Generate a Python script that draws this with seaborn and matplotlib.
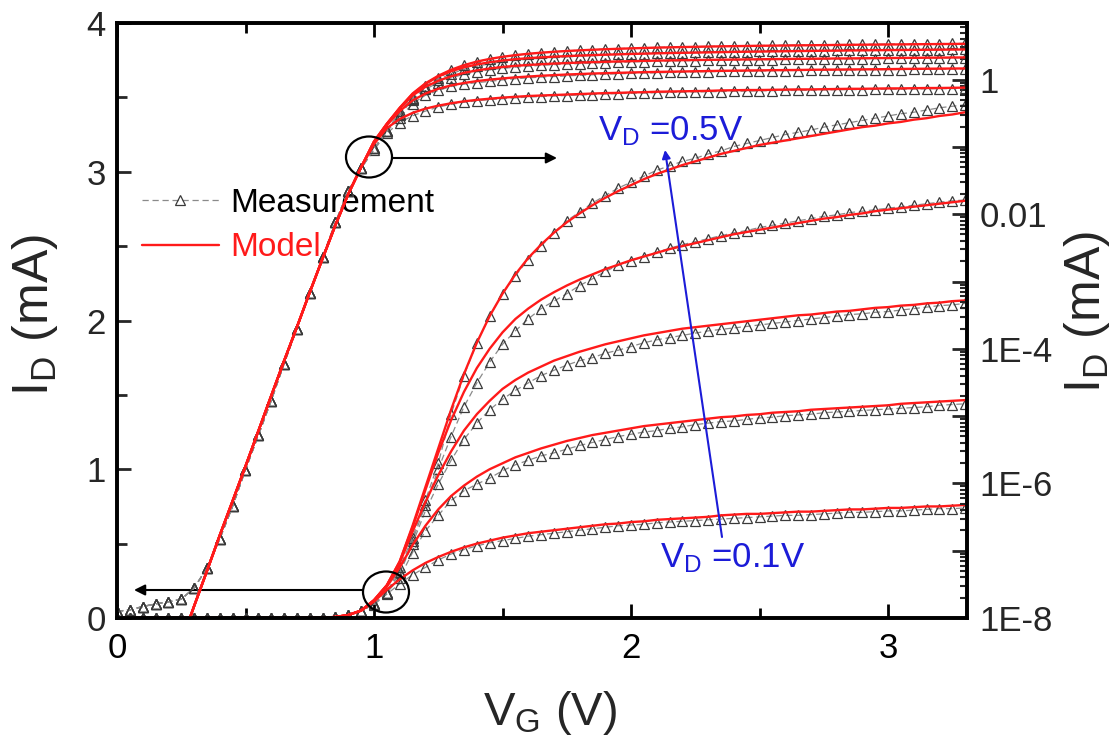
import matplotlib
matplotlib.use('Agg')
import numpy as np
import pandas as pd
import matplotlib.pyplot as plt
import seaborn as sns
from matplotlib.patches import Ellipse
from matplotlib.lines import Line2D
from matplotlib.ticker import FixedLocator, FuncFormatter, MultipleLocator, NullFormatter

# ---------------- data ----------------
vd_values = [0.1, 0.2, 0.3, 0.4, 0.5]

vg_sub = [0.00, 0.05, 0.10, 0.15, 0.20, 0.25, 0.30, 0.35, 0.40, 0.45,
          0.50, 0.55, 0.60, 0.65, 0.70, 0.75, 0.80, 0.85, 0.90, 0.95]
vg_on = [1.00, 1.05, 1.10, 1.15, 1.20, 1.25, 1.30, 1.35, 1.40, 1.45,
         1.50, 1.55, 1.60, 1.65, 1.70, 1.75, 1.80, 1.85, 1.90, 1.95,
         2.00, 2.05, 2.10, 2.15, 2.20, 2.25, 2.30, 2.35, 2.40, 2.45,
         2.50, 2.55, 2.60, 2.65, 2.70, 2.75, 2.80, 2.85, 2.90, 2.95,
         3.00, 3.05, 3.10, 3.15, 3.20, 3.25, 3.30]

# sub-threshold current (mA), common to all V_D
sub_meas = [1.26e-8, 1.32e-8, 1.48e-8, 1.62e-8, 1.74e-8, 1.9e-8, 2.8e-8, 5.5e-8, 1.5e-7, 4.6e-7,
            1.6e-6, 5.2e-6, 1.7e-5, 6.0e-5, 2.0e-4, 6.8e-4, 2.3e-3, 7.6e-3, 0.022, 0.048]
sub_model = [1.0e-11, 3.5e-11, 1.3e-10, 4.0e-10, 1.3e-9, 4.4e-9, 1.5e-8, 5.0e-8, 1.7e-7, 5.5e-7,
             1.8e-6, 6.0e-6, 2.0e-5, 6.6e-5, 2.1e-4, 6.9e-4, 2.2e-3, 6.9e-3, 0.020, 0.050]

meas_01 = [0.09, 0.16, 0.23, 0.29, 0.34, 0.39, 0.43, 0.46, 0.485, 0.505,
           0.52, 0.535, 0.55, 0.56, 0.57, 0.58, 0.59, 0.60, 0.61, 0.62,
           0.625, 0.63, 0.64, 0.645, 0.65, 0.655, 0.66, 0.665, 0.67, 0.675,
           0.68, 0.685, 0.69, 0.69, 0.695, 0.70, 0.705, 0.71, 0.71, 0.715,
           0.72, 0.72, 0.725, 0.73, 0.735, 0.735, 0.74]
model_01 = [0.11, 0.19, 0.26, 0.32, 0.37, 0.41, 0.445, 0.475, 0.50, 0.52,
            0.54, 0.555, 0.57, 0.58, 0.59, 0.60, 0.61, 0.62, 0.63, 0.635,
            0.645, 0.65, 0.66, 0.665, 0.67, 0.675, 0.68, 0.69, 0.695, 0.70,
            0.70, 0.705, 0.71, 0.715, 0.715, 0.72, 0.725, 0.73, 0.73, 0.735,
            0.74, 0.74, 0.745, 0.75, 0.75, 0.755, 0.76]
meas_02 = [0.095, 0.17, 0.27, 0.44, 0.585, 0.69, 0.79, 0.855, 0.90, 0.94,
           0.99, 1.03, 1.06, 1.09, 1.11, 1.135, 1.16, 1.18, 1.20, 1.22,
           1.235, 1.25, 1.26, 1.275, 1.285, 1.30, 1.31, 1.32, 1.325, 1.335,
           1.345, 1.35, 1.36, 1.365, 1.37, 1.38, 1.385, 1.39, 1.395, 1.40,
           1.405, 1.41, 1.415, 1.42, 1.43, 1.435, 1.44]
model_02 = [0.115, 0.21, 0.34, 0.49, 0.62, 0.73, 0.82, 0.89, 0.95, 1.00,
            1.04, 1.08, 1.11, 1.14, 1.165, 1.19, 1.21, 1.23, 1.245, 1.26,
            1.275, 1.29, 1.30, 1.31, 1.32, 1.33, 1.34, 1.35, 1.355, 1.365,
            1.37, 1.38, 1.385, 1.39, 1.40, 1.405, 1.41, 1.415, 1.42, 1.425,
            1.43, 1.44, 1.445, 1.45, 1.455, 1.46, 1.465]
meas_03 = [0.095, 0.17, 0.30, 0.50, 0.72, 0.90, 1.06, 1.20, 1.31, 1.40,
           1.47, 1.53, 1.58, 1.63, 1.665, 1.70, 1.73, 1.75, 1.78, 1.80,
           1.825, 1.85, 1.87, 1.885, 1.90, 1.915, 1.93, 1.94, 1.95, 1.96,
           1.97, 1.98, 1.99, 2.00, 2.01, 2.02, 2.03, 2.04, 2.045, 2.055,
           2.06, 2.07, 2.08, 2.09, 2.10, 2.105, 2.115]
model_03 = [0.12, 0.22, 0.37, 0.58, 0.78, 0.96, 1.12, 1.26, 1.37, 1.46,
            1.54, 1.60, 1.65, 1.69, 1.73, 1.76, 1.79, 1.815, 1.84, 1.86,
            1.88, 1.90, 1.915, 1.93, 1.945, 1.955, 1.965, 1.975, 1.985, 1.995,
            2.005, 2.015, 2.025, 2.035, 2.04, 2.05, 2.06, 2.065, 2.075, 2.085,
            2.09, 2.10, 2.105, 2.115, 2.12, 2.13, 2.135]
meas_04 = [0.095, 0.17, 0.31, 0.52, 0.76, 1.00, 1.22, 1.42, 1.58, 1.72,
           1.84, 1.93, 2.01, 2.08, 2.13, 2.18, 2.235, 2.28, 2.33, 2.37,
           2.40, 2.43, 2.46, 2.485, 2.51, 2.53, 2.55, 2.57, 2.59, 2.605,
           2.625, 2.64, 2.655, 2.67, 2.685, 2.70, 2.71, 2.725, 2.735, 2.745,
           2.755, 2.765, 2.775, 2.785, 2.795, 2.805, 2.81]
model_04 = [0.12, 0.22, 0.38, 0.61, 0.86, 1.11, 1.33, 1.52, 1.68, 1.81,
            1.92, 2.01, 2.08, 2.14, 2.19, 2.235, 2.275, 2.31, 2.345, 2.375,
            2.405, 2.43, 2.455, 2.48, 2.50, 2.52, 2.54, 2.56, 2.58, 2.595,
            2.61, 2.625, 2.64, 2.655, 2.67, 2.685, 2.695, 2.71, 2.72, 2.735,
            2.745, 2.755, 2.765, 2.775, 2.785, 2.795, 2.805]
meas_05 = [0.095, 0.17, 0.34, 0.54, 0.79, 1.04, 1.37, 1.63, 1.85, 2.03,
           2.18, 2.30, 2.41, 2.50, 2.59, 2.67, 2.73, 2.79, 2.84, 2.89,
           2.93, 2.97, 3.01, 3.04, 3.07, 3.09, 3.12, 3.14, 3.17, 3.19,
           3.21, 3.23, 3.25, 3.265, 3.28, 3.30, 3.315, 3.33, 3.345, 3.36,
           3.375, 3.39, 3.40, 3.415, 3.43, 3.44, 3.45]
model_05 = [0.12, 0.22, 0.38, 0.62, 0.88, 1.14, 1.40, 1.64, 1.85, 2.03,
            2.18, 2.31, 2.42, 2.51, 2.59, 2.66, 2.72, 2.775, 2.825, 2.87,
            2.91, 2.95, 2.985, 3.015, 3.045, 3.07, 3.095, 3.12, 3.14, 3.16,
            3.18, 3.195, 3.21, 3.225, 3.24, 3.255, 3.27, 3.285, 3.30, 3.31,
            3.325, 3.335, 3.35, 3.36, 3.375, 3.385, 3.40]

meas_on = [meas_01, meas_02, meas_03, meas_04, meas_05]
model_on = [model_01, model_02, model_03, model_04, model_05]

yticks_right = [1e-8, 1e-6, 1e-4, 1e-2, 1]
ytick_right_labels = ['1E-8', '1E-6', '1E-4', '0.01', '1']

# ---------------- build long table ----------------
rows = []
vg_all = vg_sub + vg_on
for vd, m, p in zip(vd_values, meas_on, model_on):
    for v, i in zip(vg_all, sub_meas + m):
        rows.append((v, i, vd, 'Measurement'))
    for v, i in zip(vg_all, sub_model + p):
        rows.append((v, i, vd, 'Model'))
df = pd.DataFrame(rows, columns=['VG', 'ID', 'VD', 'kind'])

# ---------------- style ----------------
sns.set_style('white')
plt.rcParams['font.family'] = ['Liberation Sans', 'DejaVu Sans']
plt.rcParams['mathtext.fontset'] = 'custom'
plt.rcParams['mathtext.rm'] = 'Liberation Sans'
plt.rcParams['mathtext.it'] = 'Liberation Sans:italic'
plt.rcParams['mathtext.bf'] = 'Liberation Sans:bold'

W, H = 1119, 748
fig = plt.figure(figsize=(W / 100, H / 100), dpi=100)
L, R, T, B = 117, 967, 23, 618
ax = fig.add_axes([L / W, 1 - B / H, (R - L) / W, (B - T) / H])
ax2 = ax.twinx()

meas_kw = dict(color='#8a8a8a', linestyle=(0, (5, 3)), linewidth=0.9,
               marker='^', markersize=6.5, markerfacecolor='none',
               markeredgecolor='#3a3a3a', markeredgewidth=0.9)
model_kw = dict(color='#ff1a1a', linewidth=1.7)

for target in (ax, ax2):
    for vd in vd_values:
        d = df[(df.VD == vd) & (df.kind == 'Measurement')]
        sns.lineplot(data=d, x='VG', y='ID', ax=target, estimator=None, sort=False,
                     legend=False, **meas_kw)
    for vd in vd_values:
        d = df[(df.VD == vd) & (df.kind == 'Model')]
        sns.lineplot(data=d, x='VG', y='ID', ax=target, estimator=None, sort=False,
                     legend=False, **model_kw)

# ---------------- axes ----------------
ax.set_xlim(0, (R - L) / 257.0)
ax.set_ylim(0, 4.0)
ax2.set_yscale('log')
ax2.set_ylim(1e-8, 10 ** (-8 + (B - T) / 67.3))

ax.set_xlabel('')
ax.set_ylabel('')
ax2.set_ylabel('')

ax.xaxis.set_major_locator(FixedLocator([0, 1, 2, 3]))
ax.xaxis.set_minor_locator(MultipleLocator(0.5))
ax.yaxis.set_major_locator(FixedLocator([0, 1, 2, 3, 4]))
ax.yaxis.set_minor_locator(MultipleLocator(0.5))
ax.xaxis.set_major_formatter(FuncFormatter(lambda v, p: '%d' % round(v)))
ax.yaxis.set_major_formatter(FuncFormatter(lambda v, p: '%d' % round(v)))

ax2.yaxis.set_major_locator(FixedLocator([10.0 ** k for k in range(-8, 1)]))
ax2.yaxis.set_minor_locator(FixedLocator([m * 10.0 ** k for k in range(-8, 1) for m in range(2, 10)
                                          if m * 10.0 ** k < 6.7]))
lab_map = {round(np.log10(v)): s for v, s in zip(yticks_right, ytick_right_labels)}
ax2.yaxis.set_major_formatter(FuncFormatter(lambda v, p: lab_map.get(round(np.log10(v)), '')))
ax2.yaxis.set_minor_formatter(NullFormatter())

ax.tick_params(axis='x', which='both', direction='in', top=True, bottom=True,
               labelsize=25, pad=10, width=2, colors='black')
ax.tick_params(axis='x', which='major', length=10)
ax.tick_params(axis='x', which='minor', length=7)
ax.tick_params(axis='y', which='both', direction='in', left=True, right=False,
               labelsize=25, pad=8, width=2)
ax.tick_params(axis='y', which='major', length=10)
ax.tick_params(axis='y', which='minor', length=7)
ax2.tick_params(axis='y', which='both', direction='in', right=True, left=False,
                labelsize=25, pad=9, width=2)
ax2.tick_params(axis='y', which='major', length=11)
ax2.tick_params(axis='y', which='minor', length=5, width=1.5)

for a in (ax, ax2):
    for s in a.spines.values():
        s.set_linewidth(2.6)
        s.set_color('black')

# axis titles
fig.text(35 / W, 1 - 315 / H, r'I$_{\rm D}$ (mA)', fontsize=36, rotation=90,
         ha='center', va='center')
fig.text(1087 / W, 1 - 312 / H, r'I$_{\rm D}$ (mA)', fontsize=36, rotation=90,
         ha='center', va='center')
fig.text(550 / W, 1 - 713 / H, r'V$_{\rm G}$ (V)', fontsize=34, ha='center', va='center')

# ---------------- legend ----------------
h_meas = Line2D([], [], **meas_kw)
h_model = Line2D([], [], **model_kw)
leg = ax.legend([h_meas, h_model], ['Measurement', 'Model'], loc='upper left',
                bbox_to_anchor=((142 - L) / (R - L), (B - 188) / (B - T)),
                frameon=False, fontsize=24, handlelength=2.3, handletextpad=0.35,
                labelspacing=0.4, borderaxespad=0, borderpad=0)
leg.get_texts()[0].set_color('black')
leg.get_texts()[1].set_color('#ff1a1a')

# ---------------- annotations ----------------
def px2d(x, y):
    return (x - L) / 257.0, (B - y) / ((B - T) / 4.0)

for cx, cy in [(369, 157), (386, 592)]:
    ax2.add_patch(Ellipse(px2d(cx, cy), 46 / 257.0, 41 / ((B - T) / 4.0),
                          transform=ax.transData, fill=False, edgecolor='black', lw=1.6,
                          zorder=10))

ax.annotate('', xy=px2d(557, 158), xytext=px2d(392, 158),
            arrowprops=dict(arrowstyle='-|>', color='black', lw=1.5, mutation_scale=16,
                            shrinkA=0, shrinkB=0), zorder=10)
ax.annotate('', xy=px2d(134, 590), xytext=px2d(363, 590),
            arrowprops=dict(arrowstyle='-|>', color='black', lw=1.5, mutation_scale=16,
                            shrinkA=0, shrinkB=0), zorder=10)
blue = '#1c1cd8'
ax2.annotate('', xy=px2d(665, 150), xytext=px2d(722, 537), xycoords=ax.transData,
             textcoords=ax.transData,
             arrowprops=dict(arrowstyle='-|>', color=blue, lw=1.5, mutation_scale=12,
                             shrinkA=0, shrinkB=0), zorder=10)
ax2.text(*px2d(598, 140), r'V$_{\rm D}$ =0.5V', transform=ax.transData, color=blue,
         fontsize=25, va='baseline', ha='left', zorder=10)
ax2.text(*px2d(660, 567), r'V$_{\rm D}$ =0.1V', transform=ax.transData, color=blue,
         fontsize=25, va='baseline', ha='left', zorder=10)

fig.savefig('out.png', dpi=100)
